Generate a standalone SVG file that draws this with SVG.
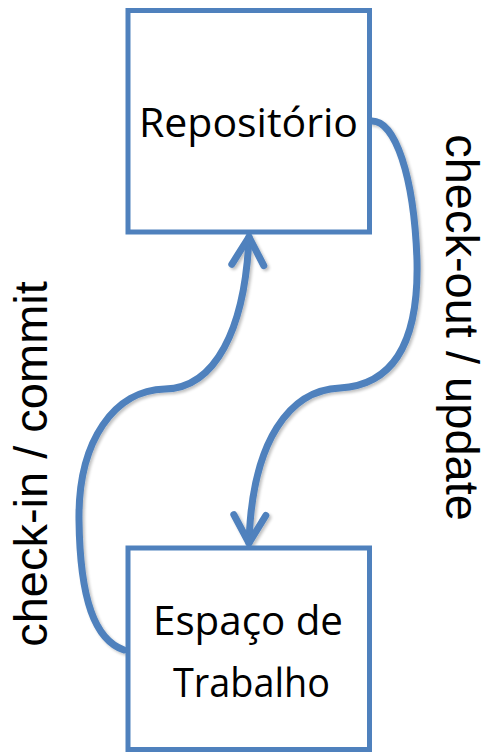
<svg xmlns="http://www.w3.org/2000/svg" width="488" height="752" viewBox="0 0 488 752">
  <style>
    .box { fill: #ffffff; stroke: #4f81bd; stroke-width: 5; }
    .name { font-family: "Open Sans", "Liberation Sans", sans-serif; font-size: 40px; fill: #000000; text-anchor: middle; }
    .label { font-family: "Liberation Sans", Arial, sans-serif; font-size: 47px; fill: #000000; text-anchor: middle; }
    .flow { fill: none; stroke: #4f81bd; stroke-width: 7; stroke-linecap: round; marker-end: url(#chevron); filter: url(#soft); }
  </style>
  <defs>
    <marker id="chevron" markerUnits="userSpaceOnUse" markerWidth="40" markerHeight="40" viewBox="-32 -20 40 40" refX="0" refY="0" orient="auto" overflow="visible">
      <path d="M -28,-16 L 0,0 L -28,16" fill="none" stroke="#4f81bd" stroke-width="7" stroke-linecap="round" stroke-linejoin="round"/>
    </marker>
    <filter id="soft" x="-20%" y="-20%" width="140%" height="140%">
      <feGaussianBlur in="SourceAlpha" stdDeviation="1.5"/>
      <feOffset dx="1.5" dy="2" result="blur"/>
      <feComponentTransfer><feFuncA type="linear" slope="0.25"/></feComponentTransfer>
      <feMerge><feMergeNode/><feMergeNode in="SourceGraphic"/></feMerge>
    </filter>
  </defs>

  <!-- connectors between repository and workspace -->
  <g id="connectors">
    <path class="flow" d="M124,650 C95,640 80,600 79,520 C78,440 115,390 165,389 C215,388 245,330 249,237"/>
    <path class="flow" d="M372,121 C395,121 414,175 417,260 C419,340 395,385 340,388 C290,390 252,440 249,543"/>
  </g>

  <g id="repositorio">
    <rect class="box" x="128" y="10.5" width="241.5" height="221.5"/>
    <text class="name" x="248.5" y="137" textLength="219" lengthAdjust="spacingAndGlyphs">Repositório</text>
  </g>

  <g id="espaco-de-trabalho">
    <rect class="box" x="128" y="548" width="241.5" height="201.5"/>
    <text class="name" x="248" y="635" textLength="190" lengthAdjust="spacingAndGlyphs">Espaço de</text>
    <text class="name" x="251.5" y="697" textLength="157" lengthAdjust="spacingAndGlyphs">Trabalho</text>
  </g>

  <g id="label-checkin">
    <text class="label" transform="translate(47,464) rotate(-90)">check-in / commit</text>
  </g>
  <g id="label-checkout">
    <text class="label" transform="translate(446,327.5) rotate(90)">check-out / update</text>
  </g>
</svg>
